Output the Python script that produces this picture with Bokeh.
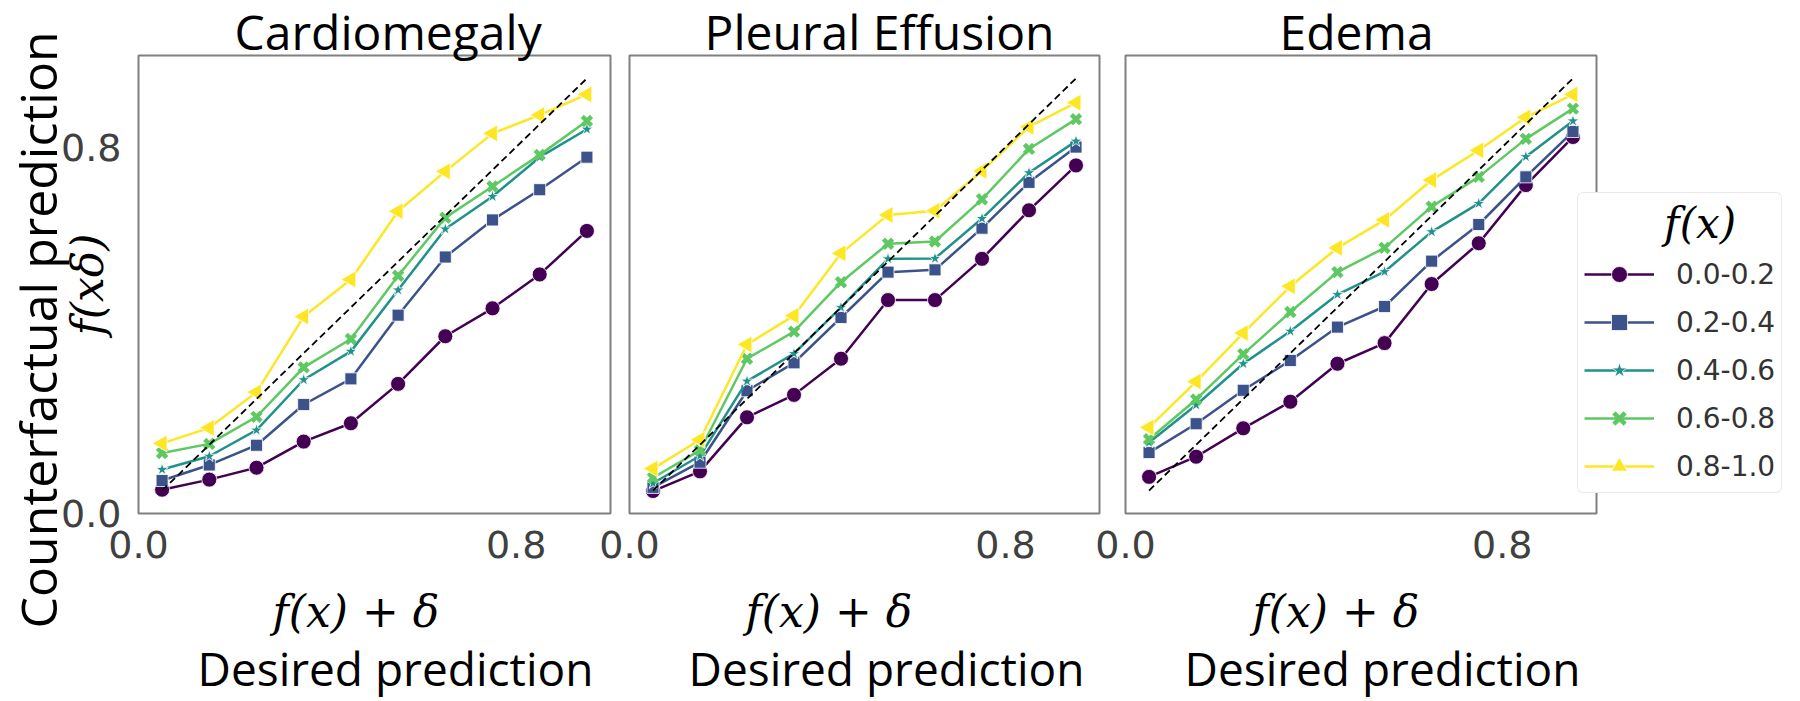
import numpy as np
from bokeh.plotting import figure
from bokeh.layouts import row
from bokeh.models import (Legend, LegendItem, FixedTicker, Range1d,
                          NumeralTickFormatter, Title)
from bokeh.embed import file_html
from bokeh.resources import INLINE

# ---------------- data ----------------
x_vals = [0.05, 0.15, 0.25, 0.35, 0.45, 0.55, 0.65, 0.75, 0.85, 0.95]
bin_labels = ["0.0-0.2", "0.2-0.4", "0.4-0.6", "0.6-0.8", "0.8-1.0"]
palette = ["#440154", "#3b528b", "#21918c", "#5ec962", "#fde725"]
titles = ["Cardiomegaly", "Pleural Effusion", "Edema"]
x_ticks = [0.0, 0.8]
y_ticks = [0.0, 0.8]

cardio_00 = [0.052, 0.074, 0.100, 0.157, 0.197, 0.283, 0.387, 0.448, 0.522, 0.617]
cardio_02 = [0.072, 0.106, 0.149, 0.238, 0.294, 0.433, 0.560, 0.641, 0.707, 0.778]
cardio_04 = [0.096, 0.125, 0.182, 0.292, 0.354, 0.488, 0.621, 0.692, 0.778, 0.839]
cardio_06 = [0.132, 0.152, 0.211, 0.319, 0.381, 0.519, 0.646, 0.714, 0.783, 0.857]
cardio_08 = [0.153, 0.187, 0.265, 0.430, 0.511, 0.660, 0.747, 0.830, 0.870, 0.915]

pleural_00 = [0.049, 0.092, 0.210, 0.259, 0.338, 0.466, 0.466, 0.556, 0.662, 0.760]
pleural_02 = [0.057, 0.112, 0.268, 0.329, 0.428, 0.527, 0.532, 0.623, 0.723, 0.800]
pleural_04 = [0.066, 0.126, 0.289, 0.349, 0.450, 0.556, 0.557, 0.644, 0.744, 0.813]
pleural_06 = [0.078, 0.138, 0.338, 0.397, 0.505, 0.589, 0.594, 0.686, 0.796, 0.861]
pleural_08 = [0.098, 0.161, 0.369, 0.432, 0.568, 0.652, 0.661, 0.748, 0.844, 0.897]

edema_00 = [0.080, 0.124, 0.186, 0.244, 0.327, 0.372, 0.501, 0.590, 0.717, 0.822]
edema_02 = [0.133, 0.196, 0.269, 0.334, 0.407, 0.452, 0.551, 0.631, 0.735, 0.834]
edema_04 = [0.155, 0.237, 0.327, 0.398, 0.478, 0.528, 0.615, 0.677, 0.779, 0.857]
edema_06 = [0.162, 0.249, 0.348, 0.440, 0.527, 0.580, 0.670, 0.735, 0.818, 0.884]
edema_08 = [0.188, 0.288, 0.394, 0.496, 0.580, 0.641, 0.728, 0.793, 0.865, 0.915]

panels_data = [
    [cardio_00, cardio_02, cardio_04, cardio_06, cardio_08],
    [pleural_00, pleural_02, pleural_04, pleural_06, pleural_08],
    [edema_00, edema_02, edema_04, edema_06, edema_08],
]

# ---------------- styles ----------------
markers = ["circle", "square", "star", "x", "triangle"]
msizes = [15, 12, 13, 13, 17]
mangles = [0, 0, 0, 0, np.pi / 2]

frame_w = [472, 470, 471]
b_left = [138, 35, 35]
b_right = [5, 5, 200]
m_left = [0, -21, -14]
title_off = [96, 75, 154]
fx_off = [134, 116, 127]
dp_off = [59, 59, 59]

TEXT_FONT = "Open Sans"
MATH_FONT = "DejaVu Serif"
TICK_FONT = "DejaVu Sans"
NBSP = "\u00a0"


def make_panel(i):
    p = figure(frame_width=frame_w[i], frame_height=458,
               min_border_left=b_left[i], min_border_right=b_right[i],
               min_border_top=55, min_border_bottom=188,
               x_range=Range1d(0, 1), y_range=Range1d(0, 1),
               output_backend="svg", toolbar_location=None)
    if m_left[i]:
        p.margin = (0, 0, 0, m_left[i])
    p.border_fill_color = None
    p.background_fill_color = "white"
    p.outline_line_color = "#808080"
    p.outline_line_width = 2
    p.xgrid.visible = False
    p.ygrid.visible = False

    # title
    p.title.text = titles[i]
    p.title.align = "left"
    p.title.offset = title_off[i]
    p.title.vertical_align = "top"
    p.title.standoff = -20
    p.title.text_font = TEXT_FONT
    p.title.text_font_size = "48px"
    p.title.text_font_style = "normal"
    p.title.text_color = "black"

    for ax, ticks, standoff in ((p.xaxis, x_ticks, 17), (p.yaxis, y_ticks, 17)):
        ax.ticker = FixedTicker(ticks=ticks)
        ax.formatter = NumeralTickFormatter(format="0.0")
        ax.axis_line_color = None
        ax.major_tick_line_color = None
        ax.minor_tick_line_color = None
        ax.major_tick_out = 0
        ax.major_label_text_font = TICK_FONT
        ax.major_label_text_font_size = "38px"
        ax.major_label_text_color = "#404040"
        ax.major_label_standoff = standoff
    if i > 0:
        p.yaxis.visible = False
    else:
        p.yaxis.axis_label = "f(xδ)"
        p.yaxis.axis_label_text_font = MATH_FONT
        p.yaxis.axis_label_text_font_style = "italic"
        p.yaxis.axis_label_text_font_size = "44px"
        p.yaxis.axis_label_text_color = "black"
        p.yaxis.axis_label_standoff = -55
        p.add_layout(Title(text="Counterfactual prediction", align="left", offset=-115,
                           standoff=-24, text_font=TEXT_FONT, text_font_size="50px",
                           text_font_style="normal", text_color="black"), "left")

    p.add_layout(Title(text="f(x) + δ", align="left", offset=fx_off[i], vertical_align="top",
                       standoff=51, text_font=MATH_FONT, text_font_style="italic",
                       text_font_size="44px", text_color="black"), "below")
    p.add_layout(Title(text="Desired prediction", align="left", offset=dp_off[i],
                       vertical_align="top", standoff=-56, text_font=TEXT_FONT,
                       text_font_style="normal", text_font_size="46px",
                       text_color="black"), "below")

    items = []
    for vals, col, mk, ms, ang, lab in zip(panels_data[i], palette, markers, msizes, mangles, bin_labels):
        rl = p.line(x_vals, vals, line_color=col, line_width=2.5)
        if mk == "x":
            rm = p.scatter(x_vals, vals, marker=mk, size=ms, line_color=col, line_width=4.5)
        else:
            rm = p.scatter(x_vals, vals, marker=mk, size=ms, angle=ang, fill_color=col,
                           line_color="white", line_width=0.8)
        items.append(LegendItem(label=lab, renderers=[rl, rm]))

    diag = [x_vals[0], x_vals[-1]]
    p.line(diag, diag, line_color="black", line_dash="7 4", line_width=1.8)

    if i == 2:
        legend = Legend(items=items, location=(-19, 20), orientation="vertical")
        legend.title = NBSP * 6 + "f(x)"
        legend.title_text_font = MATH_FONT
        legend.title_text_font_style = "italic"
        legend.title_text_font_size = "42px"
        legend.title_text_color = "black"
        legend.title_standoff = 6
        legend.label_text_font = TICK_FONT
        legend.label_text_font_size = "28px"
        legend.label_text_color = "#333333"
        legend.glyph_width = 70
        legend.glyph_height = 40
        legend.label_height = 40
        legend.spacing = 8
        legend.padding = 6
        legend.margin = 0
        legend.label_standoff = 22
        legend.border_line_color = "#d6d6d6"
        legend.border_line_width = 1.5
        legend.background_fill_color = "white"
        legend.background_fill_alpha = 1.0
        try:
            legend.border_radius = 6
        except Exception:
            pass
        p.add_layout(legend, "right")
    return p


figs = [make_panel(i) for i in range(3)]
layout = row(*figs)

open("out.html", "w").write(file_html(layout, INLINE))
